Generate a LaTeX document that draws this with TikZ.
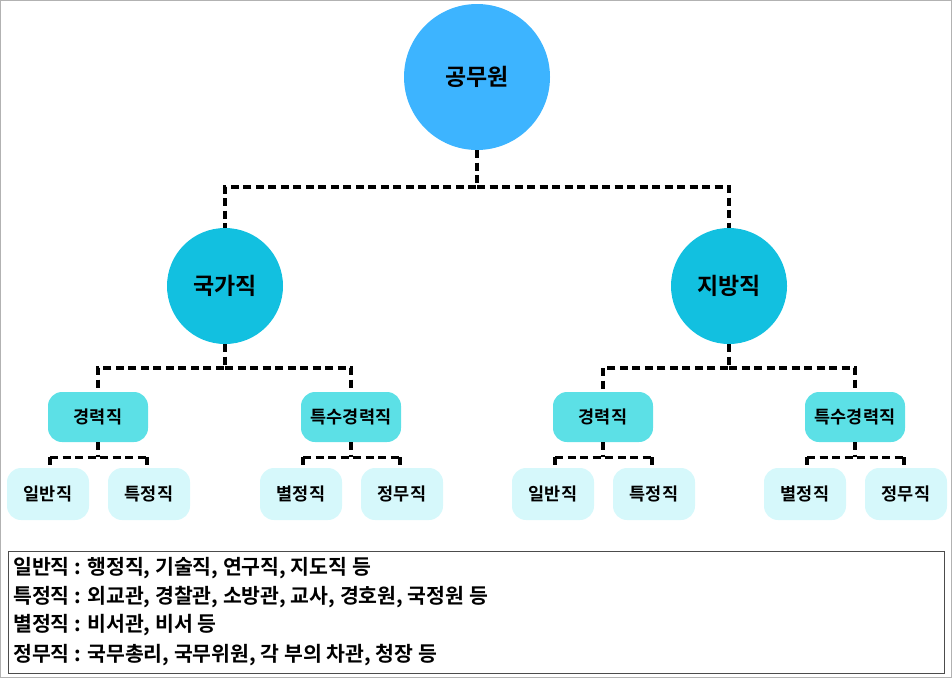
\documentclass[tikz,border=0pt]{standalone}
\usepackage{fontspec}
\setmainfont{Noto Sans CJK KR Bold}
\begin{document}
\begin{tikzpicture}[x=1pt,y=-1pt,
  conn/.style={line width=3.4pt,dash pattern=on 8pt off 4.5pt},
  top/.style={circle,fill=c1,minimum size=146pt,inner sep=0pt,font=\fontsize{23}{25}\selectfont},
  mid/.style={circle,fill=c2,minimum size=116pt,inner sep=0pt,font=\fontsize{23}{25}\selectfont},
  lvthree/.style={rounded corners=14pt,fill=c3,minimum width=100pt,minimum height=50pt,inner sep=0pt,font=\fontsize{17.5}{19}\selectfont},
  lvfour/.style={rounded corners=14pt,fill=c4,minimum width=82pt,minimum height=52pt,inner sep=0pt,font=\fontsize{17.5}{19}\selectfont},
  leg/.style={anchor=west,inner sep=0pt,font=\fontsize{20.5}{22}\selectfont}]
\definecolor{c1}{HTML}{3DB4FF}
\definecolor{c2}{HTML}{12C0E0}
\definecolor{c3}{HTML}{5CE0E6}
\definecolor{c4}{HTML}{D6F8FB}
\useasboundingbox (0,0) rectangle (952,678);
\draw[gray!60,line width=1pt] (0.5,0.5) rectangle (951.5,677.5);
\node[top] (g) at (477,77) {공무원};
\node[mid] (k) at (225,286) {국가직};
\node[mid] (j) at (729,286) {지방직};
\draw[conn] (g.south) -- (477,187) -| (k.north);
\draw[conn] (477,187) -| (j.north);
\foreach \p/\cx/\a/\b in {k/225/98/351, j/729/603/855}{
  \node[lvthree] (\p1) at (\a,417) {경력직};
  \node[lvthree] (\p2) at (\b,417) {특수경력직};
  \draw[conn] (\p.south) -- (\cx,368) -| (\p1.north);
  \draw[conn] (\cx,368) -| (\p2.north);
}
\foreach \p/\a/\b/\n/\m in {k1/48/149/일반직/특정직, k2/301/402/별정직/정무직, j1/553/654/일반직/특정직, j2/805/906/별정직/정무직}{
  \node[lvfour] (\p a) at (\a,494) {\n};
  \node[lvfour] (\p b) at (\b,494) {\m};
  \coordinate (\p m) at ([yshift=-15pt]\p.south);
  \draw[conn] (\p.south) -- (\p m);
  \draw[conn] ([xshift=2pt]\p a.north |- \p m) coordinate (\p l) -- ([xshift=-2pt]\p b.north |- \p m) coordinate (\p r);
  \draw[conn] (\p l) -- ++(0,11);
  \draw[conn] (\p r) -- ++(0,11);
}
\node[draw=black!70,line width=1pt,minimum width=936pt,minimum height=122pt,anchor=north west,inner sep=0pt] (box) at (8,551) {};
\node[leg] (l1) at (13,568) {일반직 : 행정직, 기술직, 연구직, 지도직 등};
\node[leg] (l2) at (13,597) {특정직 : 외교관, 경찰관, 소방관, 교사, 경호원, 국정원 등};
\node[leg] (l3) at (13,625) {별정직 : 비서관, 비서 등};
\node[leg] (l4) at (13,655) {정무직 : 국무총리, 국무위원, 각 부의 차관, 청장 등};
\end{tikzpicture}
\end{document}
